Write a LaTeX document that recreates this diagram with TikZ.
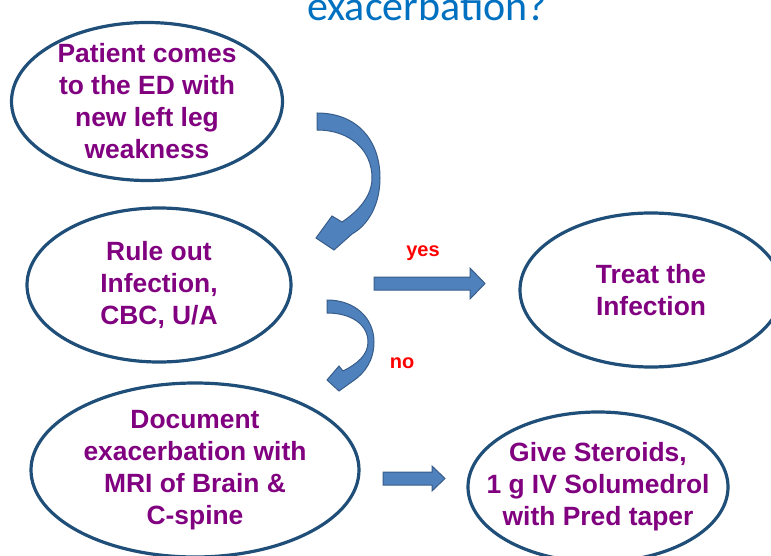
\documentclass[tikz,border=0pt]{standalone}
\usepackage{fontspec}
\setmainfont{Liberation Sans}
\newfontfamily\titlefont{Carlito}
\usetikzlibrary{shapes.geometric}

\definecolor{ringblue}{HTML}{1F4E79}
\definecolor{nodetext}{HTML}{800080}
\definecolor{arrowfill}{HTML}{4F81BD}
\definecolor{arrowline}{HTML}{385D8A}
\definecolor{titleblue}{HTML}{0070C0}

\begin{document}
\begin{tikzpicture}[x=1pt, y=-1pt,
    bubble/.style={ellipse, draw=ringblue, line width=3.2pt, fill=white,
        text=nodetext, font=\fontsize{26.4}{32}\selectfont\bfseries,
        align=center, inner xsep=-30pt, inner ysep=-10pt},
    blockarrow/.style={fill=arrowfill, draw=arrowline, line width=1pt,
        line join=miter},
    answer/.style={text=red, font=\fontsize{20}{24}\selectfont\bfseries,
        anchor=base, inner sep=0pt}
    ]
    \clip (0,0) rectangle (771,556);

    % title, cut by the top edge
    \node[font=\titlefont\fontsize{42}{50}\selectfont, text=titleblue,
        anchor=base west, inner sep=0pt] (title) at (307,21) {exacerbation?};

    \node[bubble, minimum width=271pt, minimum height=158pt] (patient) at (147,101.5)
        {Patient comes\\to the ED with\\new left leg\\weakness};
    \node[bubble, minimum width=264pt, minimum height=154pt] (ruleout) at (159,285)
        {Rule out\\Infection,\\CBC, U/A};
    \node[bubble, minimum width=262pt, minimum height=154pt] (treat) at (651,290)
        {Treat the\\Infection};
    \node[bubble, minimum width=328pt, minimum height=174pt] (document) at (195,470)
        {Document\\exacerbation with\\MRI of Brain \&\\C-spine};
    \node[bubble, minimum width=260pt, minimum height=150pt] (steroids) at (598,487)
        {Give Steroids,\\1 g IV Solumedrol\\with Pred taper};

    % curved arrows
    \draw[blockarrow] (317,113) .. controls (357,113) and (380,140) .. (380,178)
        .. controls (380,205) and (368,225) .. (352,234) -- (334,250) -- (316,238)
        -- (332,216) -- (342,222) .. controls (360,210) and (372,195) .. (372,178)
        .. controls (372,150) and (350,130) .. (317,130) -- cycle;
    \draw[blockarrow] (327,300) .. controls (355,300) and (374,318) .. (374,342)
        .. controls (374,360) and (365,373) .. (353,381) -- (339,391) -- (327,380)
        -- (339,366) -- (343,371) .. controls (357,364) and (368,355) .. (368,342)
        .. controls (368,325) and (352,313) .. (327,313) -- cycle;

    % straight arrows
    \draw[blockarrow] (374,277) -- (470,277) -- (470,268) -- (485,283.5)
        -- (470,299) -- (470,290) -- (374,290) -- cycle;
    \draw[blockarrow] (383,472) -- (432,472) -- (432,466) -- (445,478.5)
        -- (432,491) -- (432,485) -- (383,485) -- cycle;

    \node[answer] (yes) at (423,256) {yes};
    \node[answer] (no) at (402,368) {no};
\end{tikzpicture}
\end{document}
